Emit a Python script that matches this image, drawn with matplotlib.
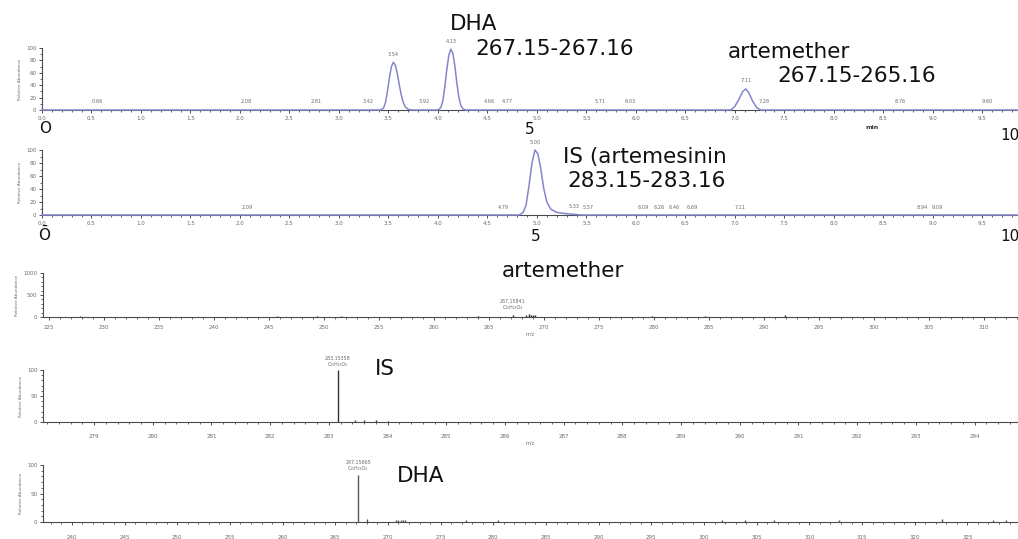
import numpy as np
import matplotlib
matplotlib.use("Agg")
import matplotlib.pyplot as plt
from matplotlib.ticker import MultipleLocator, FormatStrFormatter

# ---------------- data ----------------
# Chromatogram 1 (DHA / artemether, m/z 267.15-267.16)
chrom1_t = [0.00, 3.42, 3.45, 3.47, 3.49, 3.51, 3.53, 3.55, 3.57, 3.59, 3.61,
            3.63, 3.65, 3.67, 3.70, 3.73,
            4.00, 4.03, 4.05, 4.07, 4.09, 4.11, 4.13, 4.15, 4.17, 4.19, 4.21,
            4.23, 4.25, 4.28,
            6.96, 7.00, 7.04, 7.08, 7.11, 7.14, 7.18, 7.22, 7.26, 9.86]
chrom1_i = [0, 0, 3, 12, 30, 52, 70, 77, 72, 58, 40,
            24, 12, 5, 1, 0,
            0, 4, 15, 38, 66, 88, 98, 92, 72, 45, 22,
            8, 2, 0,
            0, 6, 17, 30, 34, 28, 14, 4, 0, 0]
chrom1_lab_x = [0.56, 2.06, 2.77, 3.30, 3.55, 3.86, 4.13, 4.52, 4.70,
                5.64, 5.94, 7.11, 7.30, 8.67, 9.55]
chrom1_lab = ["0.66", "2.08", "2.81", "3.42", "3.54", "3.92", "4.13", "4.66",
              "4.77", "5.71", "6.03", "7.11", "7.28", "8.76", "9.60"]

# Chromatogram 2 (IS artemisinin, m/z 283.15-283.16)
chrom2_t = [0.00, 4.82, 4.86, 4.89, 4.92, 4.95, 4.98, 5.01, 5.04, 5.07, 5.10,
            5.14, 5.20, 5.30, 5.45, 9.86]
chrom2_i = [0, 0, 4, 15, 45, 80, 100, 94, 70, 40, 20, 9, 4, 2, 0, 0]
chrom2_lab_x = [2.07, 4.66, 4.98, 5.38, 5.52, 6.07, 6.24, 6.39, 6.57,
                7.05, 8.89, 9.04]
chrom2_lab = ["2.09", "4.79", "5.00", "5.33", "5.57", "6.09", "6.26", "6.46",
              "6.69", "7.11", "8.94", "9.09"]

# Spectrum artemether
spec1_mz = [227.8, 245.7, 249.4, 251.5, 264.0, 267.16, 268.4, 268.6, 268.8,
            269.0, 269.2, 279.8, 284.6, 291.9]
spec1_i = [25, 25, 30, 30, 30, 35, 50, 60, 55, 50, 40, 25, 30, 35]
spec1_ann = ["267.15841", "C\u2081\u2085H\u2082\u2083O\u2084"]

# Spectrum IS
spec2_mz = [283.154, 283.45, 283.6, 283.8, 284.0]
spec2_i = [100, 3, 3, 3, 2]
spec2_ann = ["283.15358", "C\u2081\u2085H\u2082\u2083O\u2085"]

# Spectrum DHA
spec3_mz = [267.16, 268.0, 270.8, 271.0, 271.2, 271.4, 271.6, 277.4, 280.4,
            301.7, 303.9, 306.6, 312.8, 322.6, 327.4, 328.7]
spec3_i = [83, 6, 4, 4, 4, 3, 3, 4, 4, 4, 3, 4, 3, 5, 3, 4]
spec3_ann = ["267.15865", "C\u2081\u2085H\u2082\u2083O\u2084"]

# ---------------- figure ----------------
W, H = 1018, 539
fig = plt.figure(figsize=(W / 100, H / 100), dpi=100)
fig.patch.set_facecolor("white")

AXC = "#4a4a55"
TXC = "#6a6a6a"
TRACE = "#8585cc"


def add_ax(left, top, right, bottom):
    return fig.add_axes([left / W, 1 - bottom / H, (right - left) / W, (bottom - top) / H])


def fp(x, y):
    return x / W, 1 - y / H


def style(ax, xlim, ymax, xmaj, xmin, ymaj, ymin, xfmt, yfmt, xpad, ylab=True):
    ax.set_xlim(*xlim)
    ax.set_ylim(0, ymax)
    for s in ("top", "right"):
        ax.spines[s].set_visible(False)
    for s in ("left", "bottom"):
        ax.spines[s].set_color(AXC)
        ax.spines[s].set_linewidth(0.8)
    ax.set_facecolor("none")
    ax.xaxis.set_major_locator(MultipleLocator(xmaj))
    ax.xaxis.set_minor_locator(MultipleLocator(xmin))
    ax.yaxis.set_major_locator(MultipleLocator(ymaj))
    ax.yaxis.set_minor_locator(MultipleLocator(ymin))
    ax.xaxis.set_major_formatter(FormatStrFormatter(xfmt))
    ax.yaxis.set_major_formatter(FormatStrFormatter(yfmt))
    ax.tick_params(axis="both", which="major", length=2.5, width=0.7, color=AXC,
                   labelsize=4, labelcolor=TXC, direction="out")
    ax.tick_params(axis="both", which="minor", length=1.5, width=0.6, color=AXC,
                   direction="out")
    ax.tick_params(axis="x", which="major", pad=xpad)
    ax.tick_params(axis="y", which="major", pad=1.5)
    if ylab:
        ax.set_ylabel("Relative Abundance", fontsize=3, color=TXC, labelpad=3)


# Panel 1 chromatogram
ax1 = add_ax(42, 48, 1018, 110)
style(ax1, (0, 9.86), 100, 0.5, 0.1, 20, 10, "%.1f", "%d", 2.0)
ax1.plot(chrom1_t, chrom1_i, color=TRACE, lw=1.1, clip_on=False, zorder=5)
for x, s in zip(chrom1_lab_x, chrom1_lab):
    y = np.interp(x, chrom1_t, chrom1_i) + 9
    ax1.text(x, y, s, fontsize=3.6, color=TXC, ha="center", va="bottom", clip_on=False)

# Panel 2 chromatogram
ax2 = add_ax(42, 150, 1018, 215)
style(ax2, (0, 9.86), 100, 0.5, 0.1, 20, 10, "%.1f", "%d", 2.0)
ax2.plot(chrom2_t, chrom2_i, color=TRACE, lw=1.1, clip_on=False, zorder=5)
for x, s in zip(chrom2_lab_x, chrom2_lab):
    y = np.interp(x, chrom2_t, chrom2_i) + 8
    ax2.text(x, y, s, fontsize=3.6, color=TXC, ha="center", va="bottom", clip_on=False)

# Panel 3 spectrum artemether
ax3 = add_ax(43, 273, 1018, 317)
style(ax3, (224.45, 313.09), 1000, 5, 1, 500, 100, "%d", "%d", 3.5)
ax3.vlines(spec1_mz, 0, spec1_i, color="#222222", lw=1.0, clip_on=False)
ax3.text(267.16, 150, "\n".join(spec1_ann), fontsize=3.4, color=TXC,
         ha="center", va="bottom", linespacing=1.3)
ax3.set_xlabel("m/z", fontsize=3.5, color=TXC, labelpad=1)

# Panel 4 spectrum IS
ax4 = add_ax(43, 370, 1018, 422)
style(ax4, (278.13, 294.74), 100, 1, 0.2, 50, 10, "%d", "%d", 6)
ax4.vlines(spec2_mz, 0, spec2_i, color="#333333", lw=1.0, clip_on=False)
ax4.text(283.154, 106, "\n".join(spec2_ann), fontsize=3.4, color=TXC,
         ha="center", va="bottom", linespacing=1.3, clip_on=False)
ax4.set_xlabel("m/z", fontsize=3.5, color=TXC, labelpad=1)

# Panel 5 spectrum DHA
ax5 = add_ax(43, 465, 1018, 522)
style(ax5, (237.26, 329.8), 100, 5, 1, 50, 10, "%d", "%d", 7)
ax5.vlines(spec3_mz, 0, spec3_i, color="#555555", lw=1.0, clip_on=False)
ax5.text(267.16, 89, "\n".join(spec3_ann), fontsize=3.4, color=TXC,
         ha="center", va="bottom", linespacing=1.3, clip_on=False)

# ---------------- annotation texts ----------------
BIG = dict(fontsize=15.5, color="#111111", ha="left", va="baseline",
           family="DejaVu Sans")
fig.text(*fp(450, 30), "DHA", **BIG)
fig.text(*fp(475, 55), "267.15-267.16", **BIG)
fig.text(*fp(728, 58), "artemether", **BIG)
fig.text(*fp(777, 82), "267.15-265.16", **BIG)
fig.text(*fp(563, 163), "IS (artemesinin", **BIG)
fig.text(*fp(567, 187), "283.15-283.16", **BIG)
fig.text(*fp(502, 277), "artemether", **BIG)
fig.text(*fp(375, 375), "IS", **BIG)
fig.text(*fp(397, 482), "DHA", **BIG)

MID = dict(fontsize=11, color="#111111", ha="center", va="baseline",
           family="DejaVu Sans")
fig.text(*fp(45, 133), "O", **MID)
fig.text(*fp(530, 134), "5", **MID)
fig.text(*fp(1010, 140), "10", **MID)
fig.text(*fp(44, 240), "\u014C", **MID)
fig.text(*fp(536, 241), "5", **MID)
fig.text(*fp(1010, 241), "10", **MID)
fig.text(*fp(872, 129), "min", fontsize=4.5, fontweight="bold", color="#333333",
         ha="center", va="baseline")

fig.savefig("out.png", dpi=100, facecolor="white")
